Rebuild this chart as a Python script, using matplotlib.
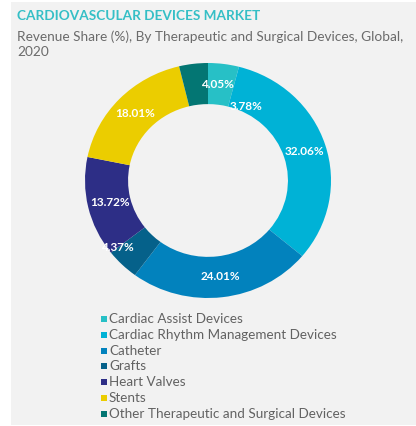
import matplotlib.pyplot as plt
import numpy as np
from matplotlib.patches import Rectangle


categories = [
    'Cardiac Assist Devices',
    'Cardiac Rhythm Management Devices',
    'Catheter',
    'Grafts',
    'Heart Valves',
    'Stents',
    'Other Therapeutic and Surgical Devices',
]
shares = [4.05, 32.06, 24.01, 4.37, 13.72, 18.01, 3.78]
colors = ['#27c0c6', '#00b2d6', '#0282bd', '#05618a', '#2d2e86', '#ebcd00', '#037673']

# a couple of labels sit off their slice centre in the original
label_shift_deg = [-2, 0, 0, 8, 0, 0, 33]
label_radius = [0.82, 0.82, 0.82, 0.93, 0.82, 0.82, 0.70]

background = '#f2f2f2'
plt.rcParams['font.family'] = ['Lato', 'DejaVu Sans']

fig = plt.figure(figsize=(4.16, 4.26), dpi=100, facecolor='white')
# grey panel with a thin white margin on the left
fig.patches.append(Rectangle((11 / 416, 1 / 426), 405 / 416, 423 / 426,
                             transform=fig.transFigure, facecolor=background,
                             edgecolor='none', zorder=-10))

fig.text(17 / 416, 1 - 16 / 426, 'CARDIOVASCULAR DEVICES MARKET',
         color='#35bfc6', fontsize=9.8, fontweight='bold', va='center', ha='left')
fig.text(17 / 416, 1 - 30 / 426,
         'Revenue Share (%), By Therapeutic and Surgical Devices, Global,\n2020',
         color='#6b6b6b', fontsize=9.8, va='top', ha='left', linespacing=1.35)

ax = fig.add_axes([85 / 416, 1 - 298 / 426, 246 / 416, 235 / 426])
wedges, _ = ax.pie(shares, colors=colors, startangle=90, counterclock=False,
                   radius=1.0, wedgeprops=dict(width=0.35, linewidth=0))
ax.set_aspect('auto')
ax.set_xlim(-1, 1)
ax.set_ylim(-1, 1)
ax.axis('off')

for wedge, value, shift, r in zip(wedges, shares, label_shift_deg, label_radius):
    mid = np.deg2rad((wedge.theta1 + wedge.theta2) / 2 - shift)
    ax.text(r * np.cos(mid), r * np.sin(mid), f'{value:.2f}%',
            color='white', fontsize=8.5, fontweight='bold', ha='center', va='center')

row_top = 319
row_step = 15.8
for i, (name, color) in enumerate(zip(categories, colors)):
    y = 1 - (row_top + i * row_step) / 426
    fig.patches.append(Rectangle((101 / 416, y - 3 / 426), 6 / 416, 6 / 426,
                                 transform=fig.transFigure, facecolor=color,
                                 edgecolor='none'))
    fig.text(109 / 416, y, name, color='#626262', fontsize=9.7,
             va='center', ha='left')

fig.savefig('out.png', dpi=100, facecolor='white')
